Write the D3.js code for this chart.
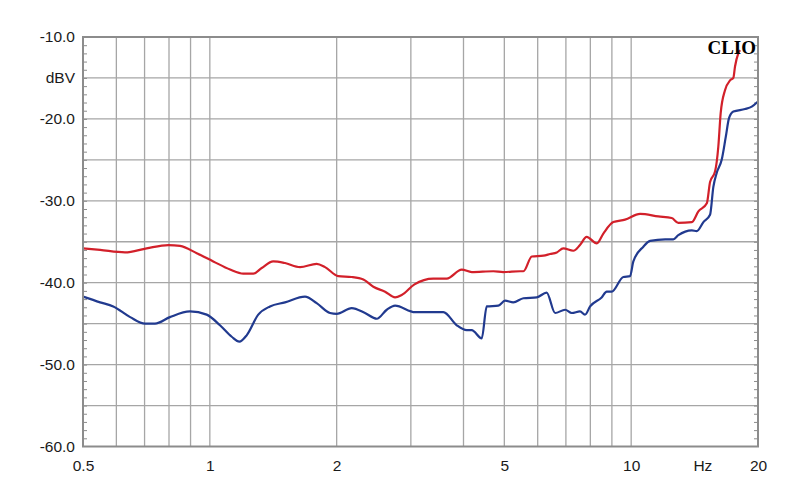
<!DOCTYPE html>
<html>
<head>
<meta charset="utf-8">
<script src="https://cdn.jsdelivr.net/npm/d3@7"></script>
<style>
  html, body { margin: 0; padding: 0; background: #fff; }
  svg { display: block; }
  text { font-family: "Liberation Sans", Arial, sans-serif; fill: #1a1a1a; }
</style>
</head>
<body>
<svg id="chart" width="800" height="504"></svg>
<script>
// ---- data ----
const redFreq = [0.5,0.549,0.629,0.708,0.797,0.85,0.931,1.019,1.117,1.201,1.268,1.328,1.414,1.508,1.637,1.793,1.877,2.018,2.171,2.314,2.444,2.606,2.752,2.854,3.06,3.392,3.65,3.961,4.184,4.708,4.972,5.45,5.55,5.81,6.19,6.42,6.66,6.9,7.29,7.56,7.84,8.29,8.59,9.07,9.67,10.5,11.6,12.48,12.94,13.93,14.44,15.12,15.39,15.82,16.1,16.31,16.7,17.17,17.48,17.64,17.96,18.13];
const redDb = [-35.8,-36.0,-36.3,-35.8,-35.4,-35.5,-36.4,-37.4,-38.4,-38.9,-38.9,-38.2,-37.4,-37.6,-38.1,-37.7,-38.1,-39.2,-39.3,-39.6,-40.5,-41.1,-41.8,-41.5,-40.2,-39.5,-39.5,-38.4,-38.7,-38.6,-38.7,-38.6,-38.6,-36.8,-36.7,-36.5,-36.3,-35.8,-36.1,-35.4,-34.4,-35.2,-34.0,-32.6,-32.3,-31.6,-31.9,-32.1,-32.7,-32.6,-31.3,-30.3,-27.7,-26.4,-23.4,-19.3,-16.5,-15.3,-15.0,-13.6,-12.0,-11.6];

const blueFreq = [0.5,0.549,0.59,0.647,0.702,0.741,0.804,0.897,0.983,1.057,1.127,1.175,1.224,1.303,1.389,1.508,1.682,1.793,1.929,2.0,2.171,2.335,2.49,2.63,2.752,3.069,3.583,3.855,4.07,4.184,4.419,4.542,4.839,5.02,5.25,5.55,5.97,6.3,6.6,6.97,7.23,7.56,7.77,7.99,8.51,8.75,8.99,9.58,9.94,10.12,10.69,11.09,12.04,12.59,12.94,13.93,14.31,14.84,15.39,15.67,15.96,16.4,16.77,17.07,17.48,18.63,19.33,19.97];
const blueDb = [-41.7,-42.4,-42.9,-44.2,-45.0,-45.0,-44.2,-43.5,-43.9,-45.2,-46.6,-47.2,-46.4,-43.9,-42.9,-42.4,-41.7,-42.5,-43.7,-43.8,-43.1,-43.7,-44.4,-43.3,-42.8,-43.6,-43.6,-45.2,-45.8,-45.8,-46.8,-42.9,-42.8,-42.2,-42.4,-41.9,-41.8,-41.2,-43.7,-43.3,-43.7,-43.5,-43.9,-42.9,-41.8,-41.1,-41.1,-39.3,-39.2,-37.4,-35.6,-34.9,-34.7,-34.7,-34.2,-33.6,-33.7,-32.6,-31.7,-28.3,-26.6,-25.0,-22.2,-19.9,-19.1,-18.8,-18.5,-17.9];

const xTickValues = [0.5, 1, 2, 5, 10, 20];
const xTickLabels = ["0.5", "1", "2", "5", "10", "20"];
const xGridValues = [0.6, 0.7, 0.8, 0.9, 1, 2, 3, 4, 5, 6, 7, 8, 9, 10];
const yTickValues = [-60, -50, -40, -30, -20, -10];
const yGridValues = [-55, -50, -45, -40, -35, -30, -25, -20, -15];
const unitY = "dBV";
const unitX = "Hz";
const brand = "CLIO";

// ---- layout ----
const L = 83, R = 758, T = 37, B = 446.5;
const svg = d3.select("#chart");
const x = d3.scaleLog().domain([0.5, 20]).range([L, R]);
const y = d3.scaleLinear().domain([-60, -10]).range([B, T]);

const gridColor = "#a6a6a6";
const frameColor = "#8c8c8c";

// grid
svg.append("g").selectAll("line").data(xGridValues).join("line")
  .attr("x1", d => x(d)).attr("x2", d => x(d))
  .attr("y1", T).attr("y2", B)
  .attr("stroke", gridColor).attr("stroke-width", 1.3);
svg.append("g").selectAll("line").data(yGridValues).join("line")
  .attr("x1", L).attr("x2", R)
  .attr("y1", d => y(d)).attr("y2", d => y(d))
  .attr("stroke", gridColor).attr("stroke-width", 1.3);

// minor ticks every 1 dB on left and right (inside)
const minor = d3.range(-59, -10, 1);
svg.append("g").call(d3.axisRight(y).tickValues(minor).tickSize(4).tickFormat(""))
  .attr("transform", `translate(${L},0)`)
  .call(g => g.select(".domain").remove())
  .call(g => g.selectAll("line").attr("stroke", frameColor).attr("stroke-width", 1));
svg.append("g").call(d3.axisLeft(y).tickValues(minor).tickSize(4).tickFormat(""))
  .attr("transform", `translate(${R},0)`)
  .call(g => g.select(".domain").remove())
  .call(g => g.selectAll("line").attr("stroke", frameColor).attr("stroke-width", 1));

// curves
const line = d3.line().curve(d3.curveMonotoneX).x(d => x(d[0])).y(d => y(d[1]));
svg.append("path").datum(redFreq.map((f, i) => [f, redDb[i]]))
  .attr("d", line).attr("fill", "none")
  .attr("stroke", "#d2202a").attr("stroke-width", 2.2).attr("stroke-linejoin", "round");
svg.append("path").datum(blueFreq.map((f, i) => [f, blueDb[i]]))
  .attr("d", line).attr("fill", "none")
  .attr("stroke", "#213a8f").attr("stroke-width", 2.2).attr("stroke-linejoin", "round");

// frame
svg.append("rect").attr("x", L).attr("y", T).attr("width", R - L).attr("height", B - T)
  .attr("fill", "none").attr("stroke", frameColor).attr("stroke-width", 2);

// y labels
const yAxis = svg.append("g").attr("transform", `translate(${L},0)`)
  .call(d3.axisLeft(y).tickValues(yTickValues).tickSize(0).tickPadding(8).tickFormat(d => d.toFixed(1)));
yAxis.select(".domain").remove();
yAxis.selectAll("text").attr("font-size", 15.5).attr("fill", "#1a1a1a")
  .style("font-family", "Liberation Sans, Arial, sans-serif");
svg.append("text").attr("x", L - 8).attr("y", y(-15)).attr("dy", "0.32em")
  .attr("text-anchor", "end").attr("font-size", 15.5).text(unitY);

// x labels
const xAxis = svg.append("g").attr("transform", `translate(0,${B})`)
  .call(d3.axisBottom(x).tickValues(xTickValues).tickSize(0).tickPadding(13)
    .tickFormat((d, i) => xTickLabels[i]));
xAxis.select(".domain").remove();
xAxis.selectAll("text").attr("font-size", 15.5).attr("fill", "#1a1a1a")
  .style("font-family", "Liberation Sans, Arial, sans-serif");
svg.append("text").attr("x", x(14.8)).attr("y", B + 13).attr("dy", "0.71em")
  .attr("text-anchor", "middle").attr("font-size", 15.5).text(unitX);

// brand
svg.append("text").attr("x", R - 2).attr("y", T + 17)
  .attr("text-anchor", "end").attr("font-size", 19).attr("font-weight", "bold")
  .style("font-family", "Liberation Serif, Times New Roman, serif")
  .style("fill", "#000").text(brand);
</script>
</body>
</html>
